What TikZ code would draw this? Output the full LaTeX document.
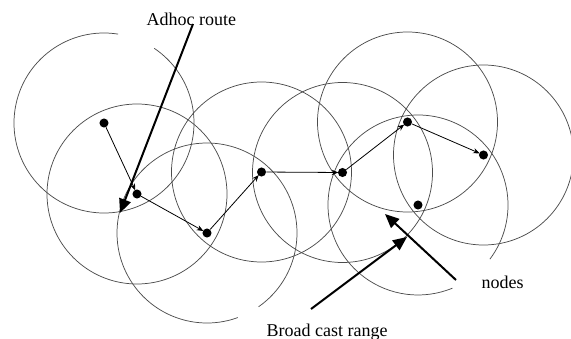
\documentclass[tikz,border=0pt]{standalone}
\usepackage{fontspec}
\setmainfont{Liberation Serif}
\usetikzlibrary{arrows.meta}

\begin{document}
\begin{tikzpicture}[x=0.75pt, y=-0.75pt, font=\fontsize{13.5}{16}\selectfont,
	host/.style={circle, fill=black, inner sep=0pt, minimum size=6.8pt},
	coverage/.style={black!70, line width=0.55pt},
	hop/.style={-{Stealth[length=5pt, width=4pt]}, line width=0.6pt, shorten >=-0.5pt},
	pointer/.style={-{Triangle[length=10.5pt, width=9pt]}, line width=1.5pt}]
	
	% --- 1. frame ---
	\useasboundingbox (0,0) rectangle (571,339);
	\def\rr{67.5pt}
	
	% --- 2. mobile hosts ---
	\node[host] (n1) at (104,123) {};
	\node[host] (n2) at (137,194) {};
	\node[host] (n3) at (207,233) {};
	\node[host] (n4) at (261.5,172) {};
	\node[host] (n5) at (342.5,172.5) {};
	\node[host] (n6) at (407.5,122) {};
	\node[host] (n7) at (483.5,155) {};
	\node[host] (n8) at (418,205) {};
	
	% --- 3. broadcast ranges ---
	\foreach \h in {n2,n4,n5,n6,n7} {
		\draw[coverage] (\h.center) circle[radius=\rr];
	}
	% ranges with a gap
	\draw[coverage] (n1.center) ++(81:\rr) arc[start angle=81, end angle=416, radius=\rr];
	\draw[coverage] (n3.center) ++(-55:\rr) arc[start angle=-55, end angle=290, radius=\rr];
	\draw[coverage] (n8.center) ++(-37:\rr) arc[start angle=-37, end angle=292.5, radius=\rr];
	
	% --- 4. adhoc route ---
	\foreach \a/\b in {n1/n2, n2/n3, n3/n4, n4/n5, n5/n6, n6/n7} {
		\draw[hop] (\a) -- (\b);
	}
	
	% --- 5. labels ---
	\node[anchor=base west] (adhoc) at (142,25) {Adhoc route};
	\node[anchor=base west] (bcast) at (262,336) {Broad cast range};
	\node[anchor=base west] (hosts) at (477,288) {nodes};
	
	\coordinate (adhoc tail) at (193,24);
	\coordinate (adhoc tip) at (120,213);
	\coordinate (bcast tail) at (311,309);
	\coordinate (bcast tip) at (407,237);
	\coordinate (hosts tail) at (456,280);
	\coordinate (hosts tip) at (385,214);
	
	\draw[pointer] (adhoc tail) -- (adhoc tip);
	\draw[pointer] (bcast tail) -- (bcast tip);
	\draw[pointer] (hosts tail) -- (hosts tip);
	
\end{tikzpicture}
\end{document}
